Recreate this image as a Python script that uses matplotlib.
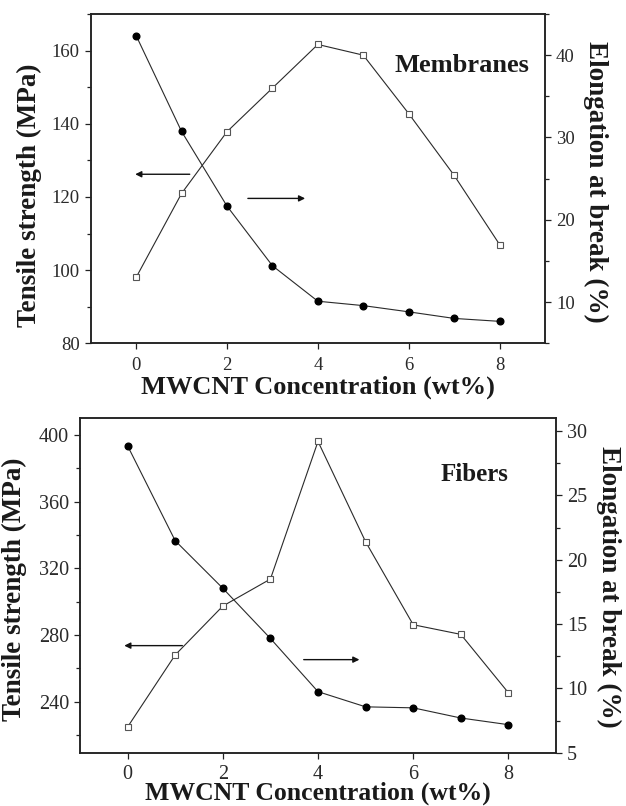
import matplotlib
matplotlib.use("Agg")
import matplotlib.pyplot as plt
from matplotlib.ticker import MultipleLocator

plt.rcParams['font.family'] = ['Liberation Serif', 'DejaVu Serif']

# ---- data ----
conc = [0, 1, 2, 3, 4, 5, 6, 7, 8]
mem_tensile = [164.1, 137.9, 117.5, 101.2, 91.5, 90.3, 88.6, 86.8, 86.0]
mem_elong = [13.0, 23.2, 30.7, 36.0, 41.3, 40.0, 32.9, 25.4, 17.0]
fib_tensile = [393.5, 336.6, 308.1, 278.0, 246.1, 237.0, 236.4, 230.3, 226.3]
fib_elong = [7.0, 12.6, 16.4, 18.5, 29.2, 21.4, 14.95, 14.2, 9.66]

xlabel = "MWCNT Concentration (wt%)"
ylabel_left = "Tensile strength (MPa)"
ylabel_right = "Elongation at break (%)"
panel_titles = ["Membranes", "Fibers"]

W, H = 626, 806
fig = plt.figure(figsize=(W / 100, H / 100), dpi=100)
fig.patch.set_facecolor('white')


def px_axes(left, top, right, bottom):
    return [left / W, 1 - bottom / H, (right - left) / W, (bottom - top) / H]


LINE = '#2a2a2a'
TXT = '#1a1a1a'


def style_axis(ax, fs):
    for s in ax.spines.values():
        s.set_linewidth(1.1)
        s.set_color('#222222')
    ax.tick_params(which='major', direction='out', length=4.5, width=0.9,
                   labelsize=fs, pad=3.5, colors='#222222', labelcolor='#2a2a2a')
    ax.tick_params(which='minor', direction='out', length=2.6, width=0.9,
                   colors='#222222')


def make_panel(rect, tens, elong, ylim_l, ylim_r, lmaj, lmin, rmaj, rmin,
               tick_fs, xpad, title, title_pos, title_fs, arrows, lab_l, lab_r,
               lab_x, xlab_fs):
    ax = fig.add_axes(rect)
    ax2 = ax.twinx()
    ax.plot(conc, tens, '-', color=LINE, lw=0.8, marker='o', ms=4.8,
            mfc='black', mec='black', zorder=3)
    ax2.plot(conc, elong, '-', color=LINE, lw=0.8, marker='s', ms=4.8,
             mfc='white', mec='#555555', mew=0.8, zorder=3)
    ax.set_xlim(-1, 9)
    ax.set_ylim(*ylim_l)
    ax2.set_ylim(*ylim_r)
    ax.xaxis.set_major_locator(MultipleLocator(2))
    ax.yaxis.set_major_locator(MultipleLocator(lmaj))
    ax.yaxis.set_minor_locator(MultipleLocator(lmin))
    ax2.yaxis.set_major_locator(MultipleLocator(rmaj))
    ax2.yaxis.set_minor_locator(MultipleLocator(rmin))
    style_axis(ax, tick_fs)
    style_axis(ax2, tick_fs)
    ax.tick_params(axis='x', which='major', pad=xpad)

    ax.set_xlabel(xlabel, fontsize=xlab_fs, fontweight='bold', color=TXT)
    ax.xaxis.set_label_coords(0.5, lab_x)
    ax.set_ylabel(ylabel_left, fontsize=19.5, fontweight='bold', color=TXT)
    ax.yaxis.set_label_coords(*lab_l)
    ax2.set_ylabel(ylabel_right, fontsize=19.5, fontweight='bold', color=TXT,
                   rotation=270, va='bottom')
    ax2.yaxis.set_label_coords(*lab_r)

    ax.text(title_pos[0], title_pos[1], title, transform=ax.transAxes,
            ha='right', va='baseline', fontsize=title_fs, fontweight='bold',
            color=TXT)

    for (x0, x1, y) in arrows:
        ax.annotate('', xy=(x1, y), xytext=(x0, y),
                    arrowprops=dict(arrowstyle='-|>', color='#111111', lw=1.0,
                                    mutation_scale=9, shrinkA=0, shrinkB=0))
    return ax, ax2


# top panel: Membranes
make_panel(px_axes(90.7, 14, 545, 343.3), mem_tensile, mem_elong,
           (80, 170), (5, 45), 20, 10, 10, 5, 13.5, 5.5,
           panel_titles[0], (0.965, 0.824), 19,
           [(1.18, -0.02, 126.2), (2.46, 3.72, 119.6)],
           (-0.107, 0.45), (1.0836, 0.49), -0.099, 19)

# bottom panel: Fibers
make_panel(px_axes(80, 418.3, 556, 752.7), fib_tensile, fib_elong,
           (209.5, 410), (5, 31), 40, 20, 5, 2.5, 14.5, 4.0,
           panel_titles[1], (0.899, 0.8125), 18,
           [(1.15, -0.07, 273.7), (3.70, 4.87, 265.3)],
           (-0.111, 0.49), (1.084, 0.497), -0.0876, 18.5)

fig.savefig('out.png', dpi=100, facecolor='white')
